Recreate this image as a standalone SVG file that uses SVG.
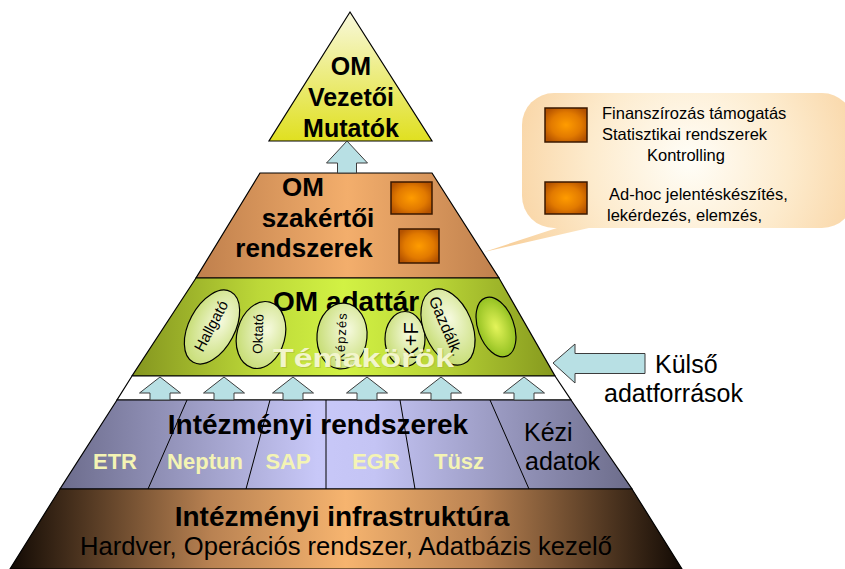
<svg xmlns="http://www.w3.org/2000/svg" width="845" height="569" viewBox="0 0 845 569">
<defs>
<style>
.band{stroke:#000;stroke-width:1.2;}
.b{font-family:"Liberation Sans",Arial,sans-serif;font-weight:bold;fill:#000;}
.r{font-family:"Liberation Sans",Arial,sans-serif;fill:#000;}
.mid{text-anchor:middle;}
.sys{font-family:"Liberation Sans",Arial,sans-serif;font-weight:bold;font-size:22px;fill:#f4f4b4;text-anchor:middle;}
.sq{fill:url(#gSq);stroke:#3a1800;stroke-width:1.5;}
.el{fill:url(#gEl);stroke:#000;stroke-width:1.2;}
.elt{font-family:"Liberation Sans",Arial,sans-serif;fill:#000;text-anchor:middle;}
.arr{fill:#b8e0e4;stroke:#3c3c3c;stroke-width:1;}
.cal{font-family:"Liberation Sans",Arial,sans-serif;font-size:16.5px;fill:#000;}
</style>
<linearGradient id="gApex" x1="0" y1="0" x2="0" y2="1"><stop offset="0" stop-color="#f8f8dc"/><stop offset="1" stop-color="#e0e020"/></linearGradient>
<linearGradient id="gExpert" x1="0" y1="0" x2="1" y2="0"><stop offset="0" stop-color="#bf7f4c"/><stop offset="0.5" stop-color="#f3ae6c"/><stop offset="1" stop-color="#bf804d"/></linearGradient>
<linearGradient id="gStore" x1="0" y1="0" x2="1" y2="0"><stop offset="0" stop-color="#84951f"/><stop offset="0.3" stop-color="#bcd838"/><stop offset="0.5" stop-color="#d2f244"/><stop offset="0.7" stop-color="#bcd838"/><stop offset="1" stop-color="#86991e"/></linearGradient>
<linearGradient id="gInst" x1="0" y1="0" x2="1" y2="0"><stop offset="0" stop-color="#6c6c8c"/><stop offset="0.45" stop-color="#c8c8f8"/><stop offset="0.55" stop-color="#c4c4f4"/><stop offset="1" stop-color="#6c6c8a"/></linearGradient>
<linearGradient id="gInfra" x1="0" y1="0" x2="1" y2="0"><stop offset="0" stop-color="#120a04"/><stop offset="0.3" stop-color="#b98252"/><stop offset="0.5" stop-color="#f6b46f"/><stop offset="0.7" stop-color="#b98252"/><stop offset="1" stop-color="#120a04"/></linearGradient>
<radialGradient id="gSq" cx="0.5" cy="0.5" r="0.6"><stop offset="0" stop-color="#ff9c00"/><stop offset="0.6" stop-color="#e27a00"/><stop offset="1" stop-color="#b45200"/></radialGradient>
<radialGradient id="gEl" cx="0.6" cy="0.4" r="0.7"><stop offset="0" stop-color="#f6fadf"/><stop offset="1" stop-color="#c2da6a"/></radialGradient>
<radialGradient id="gElG" cx="0.5" cy="0.5" r="0.55"><stop offset="0" stop-color="#e4f45a"/><stop offset="1" stop-color="#8cbc1c"/></radialGradient>
<radialGradient id="gCall" gradientUnits="userSpaceOnUse" cx="690" cy="160" r="200"><stop offset="0" stop-color="#fffef8"/><stop offset="0.5" stop-color="#fdebcd"/><stop offset="1" stop-color="#f8d09c"/></radialGradient>
</defs>

<g id="callout">
<polygon points="484,252 566,225 602,225" fill="url(#gCall)"/>
<rect x="522" y="93" width="332" height="135" rx="32" fill="url(#gCall)"/>
<rect class="sq" x="545" y="108" width="42" height="34"/>
<rect class="sq" x="545" y="182" width="42" height="32"/>
<text class="cal" x="602" y="119">Finanszírozás támogatás</text>
<text class="cal" x="602" y="140">Statisztikai rendszerek</text>
<text class="cal" x="647" y="161">Kontrolling</text>
<text class="cal" x="609" y="200">Ad-hoc jelentéskészítés,</text>
<text class="cal" x="607" y="221">lekérdezés, elemzés,</text>
</g>

<g id="apex">
<polygon class="band" points="350,12 432,141 269,141" fill="url(#gApex)"/>
<text class="b mid" font-size="25" x="351" y="75">OM</text>
<text class="b mid" font-size="25" x="351" y="106">Vezetői</text>
<text class="b mid" font-size="25" x="351" y="137">Mutatók</text>
</g>

<g id="expert">
<polygon class="band" points="260,173 432,173 499,278 196,278" fill="url(#gExpert)"/>
<text class="b mid" font-size="26" x="303" y="196">OM</text>
<text class="b mid" font-size="26" x="318" y="227">szakértői</text>
<text class="b mid" font-size="26" x="304" y="257">rendszerek</text>
<rect class="sq" x="391" y="182" width="41" height="32"/>
<rect class="sq" x="399" y="229" width="40" height="34"/>
</g>

<g id="datastore">
<polygon class="band" points="196,278 499,278 555,376 132,376" fill="url(#gStore)"/>
<text class="b" font-size="28" x="273" y="311">OM adattár</text>
<g transform="translate(212,327) rotate(28)"><ellipse class="el" rx="23" ry="40"/></g>
<g transform="translate(211,326) rotate(-62)"><text class="elt" font-size="15" dy=".35em">Hallgató</text></g>
<g transform="translate(261,335) rotate(15)"><ellipse class="el" rx="24" ry="34"/></g>
<g transform="translate(258,334) rotate(-88)"><text class="elt" font-size="13.5" dy=".35em">Oktató</text></g>
<g transform="translate(342,336) rotate(5)"><ellipse class="el" rx="25" ry="33"/></g>
<g transform="translate(341,337) rotate(-87)"><text class="elt" font-size="13" letter-spacing="1" dy=".35em">Képzés</text></g>
<g transform="translate(405,339)"><ellipse class="el" rx="20" ry="27.5"/></g>
<g transform="translate(411,341) rotate(-90)"><text class="elt" font-size="20" dy=".35em">K+F</text></g>
<g transform="translate(448,327) rotate(-23)"><ellipse class="el" rx="24" ry="40"/></g>
<g transform="translate(446,326) rotate(67)"><text class="elt" font-size="16" dy=".35em">Gazdálk.</text></g>
<g transform="translate(496,327) rotate(-20)"><ellipse rx="18" ry="31" fill="url(#gElG)" stroke="#000" stroke-width="1.2"/></g>
<text class="b" font-size="25" x="274" y="368" textLength="181" lengthAdjust="spacingAndGlyphs" style="fill:#a8b840" opacity="0.6">Témakörök</text>
<text class="b" font-size="25" x="273" y="367" textLength="181" lengthAdjust="spacingAndGlyphs" style="fill:#f2f5cc">Témakörök</text>
</g>

<g id="gap">
<polygon class="band" points="132,376 555,376 571,400 117,400" fill="#fff"/>
</g>

<g id="institutional">
<polygon class="band" points="117,400 571,400 632,489 60,489" fill="url(#gInst)"/>
<g stroke="#000" stroke-width="1">
<line x1="187" y1="400" x2="148" y2="489"/>
<line x1="270" y1="400" x2="246" y2="489"/>
<line x1="326" y1="400" x2="326" y2="489"/>
<line x1="400" y1="400" x2="415" y2="489"/>
<line x1="490" y1="400" x2="529" y2="489"/>
</g>
<text class="b mid" font-size="28" x="318" y="434">Intézményi rendszerek</text>
<text class="sys" x="115" y="469">ETR</text>
<text class="sys" x="205" y="469">Neptun</text>
<text class="sys" x="288" y="469">SAP</text>
<text class="sys" x="376" y="469">EGR</text>
<text class="sys" x="459" y="469">Tüsz</text>
<text class="r" font-size="25" x="524" y="441">Kézi</text>
<text class="r" font-size="25" x="525" y="470">adatok</text>
</g>

<g id="infrastructure">
<polygon class="band" points="60,489 632,489 682,569 10,569" fill="url(#gInfra)"/>
<text class="b mid" font-size="28" x="342" y="526">Intézményi infrastruktúra</text>
<text class="r mid" font-size="25.6" x="346" y="555">Hardver, Operációs rendszer, Adatbázis kezelő</text>
</g>

<g id="external">
<text class="r" font-size="25" x="655" y="373">Külső</text>
<text class="r" font-size="25" x="604" y="402">adatforrások</text>
</g>

<g id="connectors">
<polygon class="arr" points="347,141 367.5,163 356.5,163 356.5,173 337.5,173 337.5,163 326.5,163"/>
<polygon class="arr" points="160,377 180.5,393 170,393 170,400 150,400 150,393 139.5,393"/>
<polygon class="arr" points="224,377 244.5,393 234,393 234,400 214,400 214,393 203.5,393"/>
<polygon class="arr" points="293,377 313.5,393 303,393 303,400 283,400 283,393 272.5,393"/>
<polygon class="arr" points="367,377 387.5,393 377,393 377,400 357,400 357,393 346.5,393"/>
<polygon class="arr" points="441,377 461.5,393 451,393 451,400 431,400 431,393 420.5,393"/>
<polygon class="arr" points="524,377 544.5,393 534,393 534,400 514,400 514,393 503.5,393"/>
<polygon class="arr" points="553,363 575,344 575,353.5 645,353.5 645,373.5 575,373.5 575,383"/>
</g>
</svg>
